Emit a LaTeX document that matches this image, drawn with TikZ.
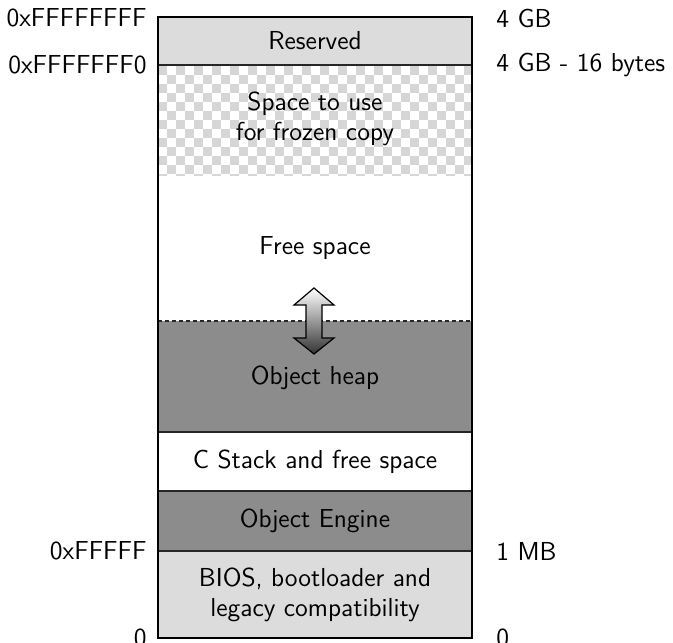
\documentclass[tikz,border=0pt]{standalone}
\usepackage{fontspec}
\usetikzlibrary{positioning}
\definecolor{lightfill}{HTML}{DCDCDC}
\definecolor{darkfill}{HTML}{8C8C8C}
\definecolor{checkgray}{HTML}{D6D6D6}
\tikzset{
  region/.style={draw=black, line width=0.8pt},
  sep/.style={draw=black!85, line width=0.8pt},
  lbl/.style={inner sep=0pt, font=\sffamily\fontsize{13}{15}\selectfont, align=center},
  addr/.style={lbl, anchor=east},
  size/.style={lbl, anchor=west},
}
\begin{document}
\begin{tikzpicture}[x=0.5pt, y=-0.5pt]
\useasboundingbox (0,0) rectangle (673,642);

% region fills
\fill[lightfill] (158,17) rectangle (472,65);
\fill[white] (158,65) rectangle (472,321);
\begin{scope}
  \clip (158,65) rectangle (472,175);
  \foreach \i in {0,...,35} {
    \foreach \j in {0,...,12} {
      \pgfmathtruncatemacro{\parity}{mod(\i+\j,2)}
      \ifnum\parity=0
        \fill[checkgray] (158+9*\i,66+9*\j) rectangle ++(9,9);
      \fi
    }
  }
\end{scope}
\fill[darkfill] (158,321) rectangle (472,432);
\fill[white] (158,432) rectangle (472,491);
\fill[darkfill] (158,491) rectangle (472,551);
\fill[lightfill] (158,551) rectangle (472,638);

% separators
\draw[sep] (158,65) -- (472,65);
\draw[sep, dash pattern=on 2.2pt off 1.3pt, line width=0.6pt] (158,321) -- (472,321);
\draw[sep] (158,432) -- (472,432);
\draw[sep] (158,491) -- (472,491);
\draw[sep] (158,551) -- (472,551);
\draw[region] (158,17) rectangle (472,638);

% growth arrow between heap and free space
\shade[top color=white, bottom color=black!80, draw=black, line width=0.6pt]
  (314,288) -- (334,305) -- (322,305) -- (322,338) -- (334,338) -- (314,354)
  -- (294,338) -- (306,338) -- (306,305) -- (294,305) -- cycle;

% region labels
\node[lbl] (reserved) at (315,41) {Reserved};
\node[lbl] (frozen) at (315,119) {Space to use\\for frozen copy};
\node[lbl] (free) at (315,248) {Free space};
\node[lbl] (heap) at (315,378) {Object heap};
\node[lbl] (cstack) at (315,462) {C Stack and free space};
\node[lbl] (engine) at (315,521) {Object Engine};
\node[lbl] (bios) at (315,595) {BIOS, bootloader and\\legacy compatibility};

% addresses
\node[addr] (a4g) at (147,18) {0xFFFFFFFF};
\node[addr] (a4g16) at (147,65) {0xFFFFFFF0};
\node[addr] (a1m) at (147,551) {0xFFFFF};
\node[addr] (a0) at (147,638) {0};

% sizes
\node[size] (s4g) at (496,18) {4 GB};
\node[size] (s4g16) at (496,65) {4 GB - 16 bytes};
\node[size] (s1m) at (496,551) {1 MB};
\node[size] (s0) at (496,638) {0};
\end{tikzpicture}
\end{document}
